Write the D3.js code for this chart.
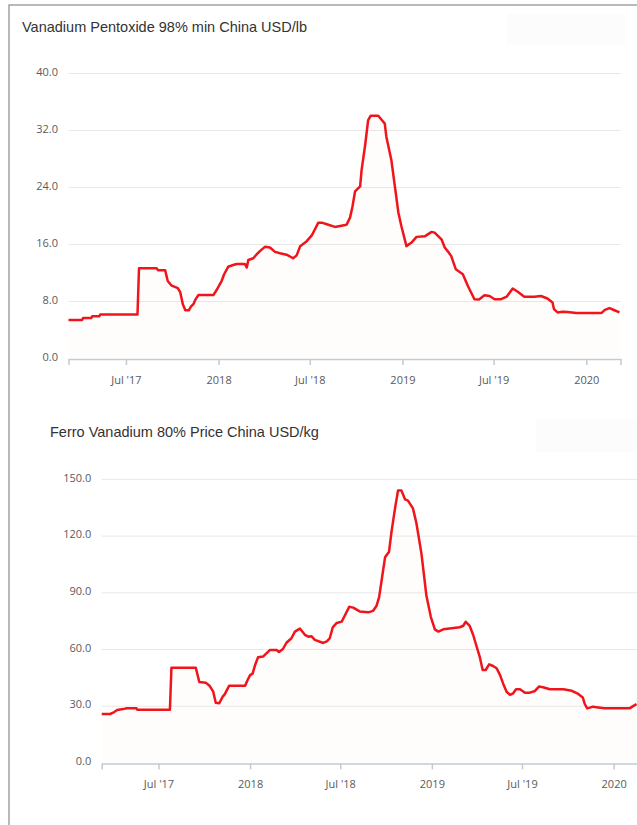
<!DOCTYPE html>
<html lang="en">
<head>
  <meta charset="UTF-8" />
  <title>Vanadium prices China</title>
  <script src="https://d3js.org/d3.v7.min.js"></script>
  <style>
    body {
      margin: 0;
      background: #fff;
    }
    svg {
      display: block;
    }
    .frame {
      stroke: #a3a3a3;
      stroke-width: 1.5;
      fill: none;
    }
    .menu-box {
      fill: #fcfcfc;
    }
    .title {
      font: 14.5px 'Liberation Sans', Arial, sans-serif;
      fill: #333;
    }
    .y-axis text, .x-axis text {
      font: 11px 'Open Sans', sans-serif;
      fill: #5a5a5a;
    }
    .y-axis line {
      stroke: #e8e8e8;
    }
    .y-axis .domain {
      display: none;
    }
    .x-axis .domain, .x-axis line {
      stroke: #c3cad2;
      stroke-width: 1.5;
    }
    .price {
      fill: none;
      stroke: #f0141b;
      stroke-width: 2.5;
      stroke-linejoin: round;
    }
    .price-area {
      fill: #ff0000;
      fill-opacity: 0.01;
    }
  </style>
</head>
<body>
  <svg width="637" height="825"></svg>

  <script>
    // values
    const v2o5 = [
      ["2017-03-09", 5.35], ["2017-04-05", 5.35], ["2017-04-07", 5.6], ["2017-04-23", 5.6],
      ["2017-04-25", 5.85], ["2017-05-09", 5.85], ["2017-05-11", 6.1], ["2017-07-24", 6.1],
      ["2017-07-27", 12.6], ["2017-08-31", 12.6], ["2017-09-03", 12.3], ["2017-09-17", 12.3],
      ["2017-09-22", 10.8], ["2017-09-29", 10.2], ["2017-10-12", 9.8], ["2017-10-17", 9.2],
      ["2017-10-22", 7.55], ["2017-10-27", 6.7], ["2017-11-03", 6.7], ["2017-11-07", 7.2],
      ["2017-11-12", 7.55], ["2017-11-16", 8.2], ["2017-11-22", 8.85], ["2017-12-22", 8.85],
      ["2017-12-29", 9.65], ["2018-01-03", 10.3], ["2018-01-07", 10.8], ["2018-01-12", 11.75],
      ["2018-01-20", 12.8], ["2018-01-30", 13.05], ["2018-02-06", 13.2], ["2018-02-22", 13.2],
      ["2018-02-26", 12.7], ["2018-03-01", 13.75], ["2018-03-11", 14.0], ["2018-03-17", 14.5],
      ["2018-03-24", 15.0], ["2018-04-03", 15.6], ["2018-04-13", 15.5], ["2018-04-23", 14.9],
      ["2018-05-03", 14.7], ["2018-05-16", 14.5], ["2018-05-29", 14.0], ["2018-06-05", 14.4],
      ["2018-06-12", 15.7], ["2018-06-25", 16.4], ["2018-07-05", 17.2], ["2018-07-18", 19.0],
      ["2018-07-25", 19.0], ["2018-08-07", 18.7], ["2018-08-20", 18.4], ["2018-09-12", 18.7],
      ["2018-09-19", 19.7], ["2018-09-24", 21.3], ["2018-09-29", 23.4], ["2018-10-09", 24.1],
      ["2018-10-12", 26.4], ["2018-10-19", 29.9], ["2018-10-25", 33.4], ["2018-10-30", 34.0],
      ["2018-11-14", 34.0], ["2018-11-21", 33.4], ["2018-11-27", 32.9], ["2018-11-30", 31.1],
      ["2018-12-10", 27.8], ["2018-12-17", 24.1], ["2018-12-24", 20.4], ["2018-12-30", 18.5],
      ["2019-01-09", 15.7], ["2019-01-19", 16.2], ["2019-01-29", 17.0], ["2019-02-15", 17.1],
      ["2019-02-28", 17.7], ["2019-03-06", 17.6], ["2019-03-20", 16.6], ["2019-03-26", 15.5],
      ["2019-04-02", 14.9], ["2019-04-08", 14.3], ["2019-04-17", 12.45], ["2019-05-01", 11.75],
      ["2019-05-11", 10.1], ["2019-05-24", 8.25], ["2019-06-02", 8.2], ["2019-06-13", 8.8],
      ["2019-06-23", 8.7], ["2019-07-03", 8.25], ["2019-07-16", 8.25], ["2019-07-27", 8.6],
      ["2019-08-08", 9.75], ["2019-08-18", 9.3], ["2019-08-31", 8.6], ["2019-09-20", 8.6],
      ["2019-10-03", 8.7], ["2019-10-16", 8.35], ["2019-10-26", 7.8], ["2019-10-29", 6.85],
      ["2019-11-05", 6.4], ["2019-11-15", 6.5], ["2019-11-25", 6.45], ["2019-12-12", 6.3],
      ["2020-01-31", 6.3], ["2020-02-07", 6.75], ["2020-02-16", 7.0], ["2020-02-26", 6.7],
      ["2020-03-07", 6.4]
    ];

    const ferro = [
      ["2017-03-09", 25.6], ["2017-03-26", 25.6], ["2017-04-01", 26.3], ["2017-04-09", 27.7],
      ["2017-04-21", 28.2], ["2017-04-28", 28.6], ["2017-05-18", 28.6], ["2017-05-19", 27.9],
      ["2017-07-24", 27.9], ["2017-07-27", 50.1], ["2017-09-14", 50.1], ["2017-09-21", 42.5],
      ["2017-10-04", 42.2], ["2017-10-12", 40.4], ["2017-10-19", 37.4], ["2017-10-24", 31.6],
      ["2017-10-31", 31.3], ["2017-11-07", 34.8], ["2017-11-11", 36.0], ["2017-11-20", 40.6],
      ["2017-12-22", 40.6], ["2017-12-27", 43.6], ["2018-01-01", 46.2], ["2018-01-06", 47.0],
      ["2018-01-11", 51.5], ["2018-01-17", 55.6], ["2018-01-27", 56.0], ["2018-02-10", 59.5],
      ["2018-02-23", 59.5], ["2018-02-28", 58.4], ["2018-03-08", 60.0], ["2018-03-15", 63.3],
      ["2018-03-25", 65.7], ["2018-04-01", 69.2], ["2018-04-11", 70.8], ["2018-04-21", 67.5],
      ["2018-04-28", 66.5], ["2018-05-04", 66.8], ["2018-05-11", 64.8], ["2018-05-28", 63.2],
      ["2018-06-04", 64.0], ["2018-06-10", 65.7], ["2018-06-16", 71.5], ["2018-06-24", 73.8],
      ["2018-07-04", 74.5], ["2018-07-10", 77.6], ["2018-07-19", 82.3], ["2018-07-27", 81.9],
      ["2018-08-09", 79.9], ["2018-08-26", 79.4], ["2018-09-05", 80.2], ["2018-09-12", 82.9],
      ["2018-09-17", 87.3], ["2018-09-22", 96.1], ["2018-09-29", 108.5], ["2018-10-07", 111.5],
      ["2018-10-12", 122.1], ["2018-10-19", 134.4], ["2018-10-25", 143.8], ["2018-11-01", 143.8],
      ["2018-11-08", 139.2], ["2018-11-14", 138.5], ["2018-11-24", 134.4], ["2018-12-01", 126.5],
      ["2018-12-11", 110.6], ["2018-12-21", 88.3], ["2018-12-30", 76.9], ["2019-01-07", 70.4],
      ["2019-01-14", 69.2], ["2019-01-24", 70.4], ["2019-02-26", 71.5], ["2019-03-05", 72.3],
      ["2019-03-10", 74.4], ["2019-03-18", 72.2], ["2019-03-25", 67.4], ["2019-04-01", 61.2],
      ["2019-04-07", 56.0], ["2019-04-13", 48.9], ["2019-04-19", 48.9], ["2019-04-26", 51.9],
      ["2019-05-04", 51.0], ["2019-05-11", 49.8], ["2019-05-18", 46.2], ["2019-05-24", 41.8],
      ["2019-05-31", 37.4], ["2019-06-07", 35.7], ["2019-06-13", 36.5], ["2019-06-19", 38.7],
      ["2019-06-27", 38.7], ["2019-07-07", 36.9], ["2019-07-17", 36.9], ["2019-07-27", 37.8],
      ["2019-08-04", 40.1], ["2019-08-12", 39.8], ["2019-08-26", 38.7], ["2019-09-22", 38.7],
      ["2019-10-09", 37.9], ["2019-10-22", 36.2], ["2019-10-31", 34.4], ["2019-11-04", 30.9],
      ["2019-11-09", 28.6], ["2019-11-21", 29.5], ["2019-12-01", 29.1], ["2019-12-14", 28.6],
      ["2020-02-02", 28.6], ["2020-02-09", 29.8], ["2020-02-16", 30.9]
    ];

    const v2o5Ticks = [0, 8, 16, 24, 32, 40];
    const ferroTicks = [0, 30, 60, 90, 120, 150];
    const xTickDates = ["2017-07-01", "2018-01-01", "2018-07-01", "2019-01-01", "2019-07-01", "2020-01-01"];
    const xTickLabels = ["Jul '17", "2018", "Jul '18", "2019", "Jul '19", "2020"];
    const xDomain = ["2017-03-09", "2020-03-09"];

    const parse = d3.timeParse("%Y-%m-%d");
    const svg = d3.select("svg");

    // outer panel border (top and left edge)
    svg.append("path")
      .attr("class", "frame")
      .attr("d", "M9,825 L9,5 L637,5");

    drawChart({
      title: "Vanadium Pentoxide 98% min China USD/lb",
      data: v2o5, ticks: v2o5Ticks,
      titleX: 22, titleY: 32,
      left: 68.5, right: 620.5, top: 73, bottom: 358,
      box: [507, 14, 118, 31]
    });

    drawChart({
      title: "Ferro Vanadium 80% Price China USD/kg",
      data: ferro, ticks: ferroTicks,
      titleX: 50, titleY: 437,
      left: 101.7, right: 647.5, top: 478.9, bottom: 762.4,
      box: [536, 419, 110, 33]
    });

    function drawChart(o) {
      const g = svg.append("g");
      const series = o.data.map(d => ({ date: parse(d[0]), value: d[1] }));

      const x = d3.scaleTime().domain(xDomain.map(parse)).range([o.left, o.right]);
      const y = d3.scaleLinear().domain([0, d3.max(o.ticks)]).range([o.bottom, o.top]);

      g.append("rect")
        .attr("class", "menu-box")
        .attr("x", o.box[0]).attr("y", o.box[1])
        .attr("width", o.box[2]).attr("height", o.box[3]);

      g.append("text")
        .attr("class", "title")
        .attr("x", o.titleX)
        .attr("y", o.titleY)
        .text(o.title);

      const yAxis = g.append("g")
        .attr("class", "y-axis")
        .attr("transform", `translate(${o.left},0)`)
        .call(d3.axisLeft(y)
          .tickValues(o.ticks.slice(1))
          .tickFormat(d3.format(".1f"))
          .tickSize(-(o.right - o.left))
          .tickPadding(10.5));
      yAxis.selectAll("text").attr("dy", "0.2em");

      // the zero label sits next to the x axis line
      g.append("g")
        .attr("class", "y-axis")
        .attr("transform", `translate(${o.left},0)`)
        .call(d3.axisLeft(y).tickValues([0]).tickFormat(d3.format(".1f")).tickSize(0).tickPadding(10.5))
        .selectAll("text").attr("dy", "0.2em");

      const area = d3.area()
        .x(d => x(d.date))
        .y0(y(0))
        .y1(d => y(d.value));

      const line = d3.line()
        .x(d => x(d.date))
        .y(d => y(d.value));

      g.append("path")
        .datum(series)
        .attr("class", "price-area")
        .attr("d", area);

      g.append("g")
        .attr("class", "x-axis")
        .attr("transform", `translate(0,${o.bottom + 1})`)
        .call(d3.axisBottom(x)
          .tickValues(xTickDates.map(parse))
          .tickFormat((d, i) => xTickLabels[i])
          .tickSizeOuter(0)
          .tickSize(6)
          .tickPadding(11));

      g.append("path")
        .datum(series)
        .attr("class", "price")
        .attr("d", line);
    }
  </script>
</body>
</html>
